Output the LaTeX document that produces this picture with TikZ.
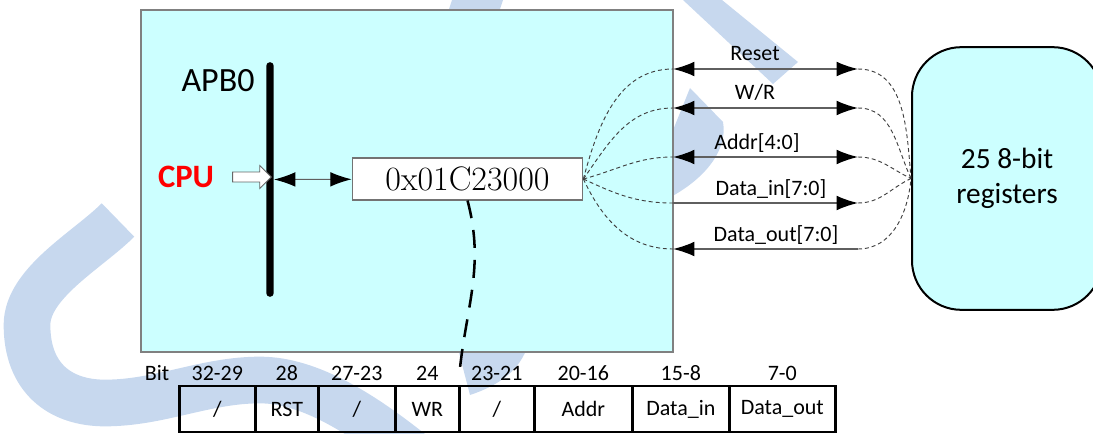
\documentclass[tikz,border=0pt]{standalone}
\usepackage{fontspec}
\usepackage{tikz}
\usetikzlibrary{arrows.meta,shapes.arrows,positioning}
\newfontfamily\calibri{Carlito}
\definecolor{apbcyan}{RGB}{204,255,255}
\definecolor{markblue}{RGB}{199,216,238}
\definecolor{wiregray}{RGB}{95,95,95}
\newcommand{\apbfont}{\calibri\fontsize{25.5}{30}\selectfont}
\newcommand{\cpufont}{\calibri\bfseries\fontsize{24.5}{28}\selectfont}
\newcommand{\hexfont}{\fontsize{25.5}{30}\selectfont}
\newcommand{\regfont}{\calibri\fontsize{22}{26}\selectfont}
\newcommand{\sigfont}{\calibri\fontsize{16.5}{20}\selectfont}
\tikzstyle{zone}=[draw=gray, fill=apbcyan, line width=0.9pt, inner sep=0pt]
\tikzstyle{bus}=[fill=black, inner sep=0pt, minimum width=5.6pt, minimum height=176pt, rounded corners=2.8pt]
\tikzstyle{hollow}=[single arrow, draw=gray!80!black, fill=white, line width=0.6pt, inner sep=3.4pt, minimum height=29pt, single arrow head extend=4.9pt]
\tikzstyle{addrbox}=[draw=gray!90!black, fill=white, line width=0.8pt, minimum width=173pt, minimum height=31.5pt, inner sep=0pt, font=\hexfont]
\tikzstyle{regbox}=[draw=black, fill=apbcyan, line width=1.5pt, rounded corners=37pt, minimum width=142.5pt, minimum height=197pt, align=center, font=\regfont]
\tikzstyle{wire}=[draw=wiregray, line width=1.1pt, >={Latex[length=16pt,width=11pt,color=black]}]
\tikzstyle{fan}=[draw=black!75, line width=0.7pt, dash pattern=on 3pt off 2.2pt]
\tikzstyle{tapline}=[draw=black, line width=1.9pt, dash pattern=on 13.5pt off 9pt]
\tikzstyle{cell}=[draw=black, line width=2pt, minimum height=34.5pt, inner sep=0pt, anchor=west, font=\sigfont]
\tikzstyle{bitlbl}=[inner sep=0pt, font=\sigfont]
\tikzstyle{siglbl}=[inner sep=0pt, anchor=base, font=\sigfont]

\begin{document}
\begin{tikzpicture}[x=0.75pt,y=0.75pt]
    \useasboundingbox (0,0) rectangle (1093,433);
    \clip (0,0) rectangle (1093,433);
    % Watermark behind everything
    \draw[markblue, line width=35pt] (118,213) .. controls (88,183) and (27,150) .. (27,108)
        .. controls (27,55) and (60,30) .. (105,30) .. controls (160,30) and (205,53) .. (260,53)
        .. controls (310,53) and (365,18) .. (420,-27);
    \fill[markblue] (452,433) -- (503,433) -- (497,415) -- (446,415) -- cycle;
    \fill[markblue] (683,433) -- (722,433) -- (798,371) -- (773,349) -- cycle;
    \fill[markblue] (690,345) -- (723,311) .. controls (728,283) and (705,253) .. (665,233) -- (665,283) -- cycle;
    \fill[markblue] (457,88) -- (528,88) .. controls (520,63) and (500,48) .. (470,38) -- cycle;

    % The APB0 block and the register file
    \node[zone, minimum width=399pt, minimum height=256.5pt] (apbzone) at (407,252) {};
    \node[regbox] (regs) at (1007,254.5) {25 8-bit\\registers};

    % Bus, CPU and the base address
    \node[bus] (apb) at (270,253.5) {};
    \node[font=\apbfont] (apbname) at (218,352) {APB0};
    \node[font=\cpufont, text=red] (cpu) at (186,256) {CPU};
    \node[hollow] (cpuarrow) at (249.5,256) {};
    \node[addrbox] (base) at (467.5,254) {0x01C23000};
    \draw[wire, line width=0.8pt, <->] (apb) -- (base);

    % Signals between the block and the registers
    \foreach \y/\name/\tips/\lx/\txt in {364/reset/<->/755/Reset, 325/wr/<->/755/{W/R},
        276/addr/<->/757/{Addr[4:0]}, 230/din/->/771/{Data\_in[7:0]}, 184/dout/<-/776/{Data\_out[7:0]}}
    {
        \coordinate (\name L) at (673,\y);
        \coordinate (\name R) at (858,\y);
        \draw[wire, \tips] (\name L) -- (\name R);
        \node[siglbl] (\name lbl) at (\lx,\y+8) {\txt};
    }
    \foreach \name/\out in {reset/75, wr/55, addr/15, din/-25, dout/-65}
        \draw[fan] (base.east) to[out=\out, in=180] (\name L);
    \foreach \name/\in in {reset/95, wr/115, addr/155, din/205, dout/265}
        \draw[fan] (\name R) to[out=0, in=\in] (regs.west);

    % Register layout
    \node[bitlbl, anchor=base] (bit) at (157,53) {Bit};
    \foreach \x/\w/\name/\txt/\bits in {178/76/c1/{/}/32-29, 254/63/c2/RST/28, 317/77/c3/{/}/27-23,
        394/64/c4/WR/24, 458/75/c5/{/}/23-21, 533/98/c6/Addr/20-16, 631/97/c7/{Data\_in}/15-8,
        728/106/c8/{Data\_out}/7-0}
    {
        \node[cell, minimum width=\w*0.75pt] (\name) at (\x,24) {\txt};
        \node[bitlbl, above=3pt of \name] (\name bits) {\bits};
    }
    \coordinate (tap) at (459,55);
    \draw[tapline] (base.south) to[out=-75, in=85] (tap);
\end{tikzpicture}
\end{document}
